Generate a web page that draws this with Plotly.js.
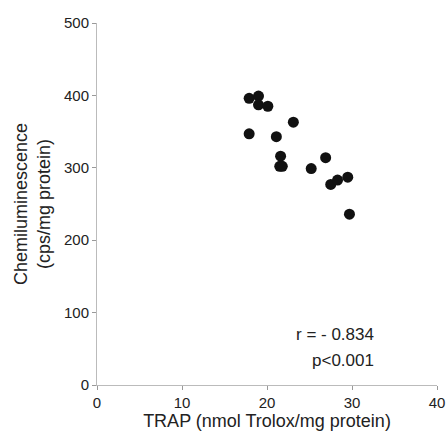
<!DOCTYPE html>
<html><head><meta charset="utf-8">
<script src="https://cdn.plot.ly/plotly-3.0.1.min.js"></script>
<style>html,body{margin:0;padding:0;background:#fff;}</style>
</head><body>
<div id="chart" style="width:447px;height:436px;"></div>
<script>
const trap = [17.9, 19.0, 19.0, 20.1, 23.1, 17.9, 21.1, 21.6, 21.5, 21.8, 26.9, 25.2, 27.5, 28.3, 29.5, 29.7];
const chemi = [396, 399, 387, 385, 363, 347, 343, 316, 302, 302, 314, 299, 277, 283, 287, 236];
const xTicks = [0, 10, 20, 30, 40];
const yTicks = [0, 100, 200, 300, 400, 500];
const statLines = ["r = - 0.834", "p<0.001"];

const font = {family: "Liberation Sans, Arial, sans-serif", color: "#222", size: 15};
Plotly.newPlot("chart", [{
  x: trap, y: chemi, type: "scatter", mode: "markers",
  marker: {color: "#111", size: 11},
  cliponaxis: false
}], {
  width: 447, height: 436,
  margin: {l: 97, r: 10, t: 23, b: 51},
  paper_bgcolor: "#fff", plot_bgcolor: "#fff",
  showlegend: false,
  font: font,
  xaxis: {
    range: [0, 40], tickvals: xTicks, ticktext: xTicks.map(String),
    showgrid: false, zeroline: false, showline: true, linecolor: "#bbb", linewidth: 1,
    ticks: "outside", ticklen: 4, tickcolor: "#999",
    tickfont: {size: 15, color: "#222"},
    title: {text: "TRAP (nmol Trolox/mg protein)", font: {size: 18, color: "#222"}, standoff: 3}
  },
  yaxis: {
    range: [0, 500], tickvals: yTicks, ticktext: yTicks.map(String),
    showgrid: false, zeroline: false, showline: true, linecolor: "#bbb", linewidth: 1,
    ticks: "outside", ticklen: 4, tickcolor: "#999",
    tickfont: {size: 15, color: "#222"},
    title: {text: "Chemiluminescence<br>(cps/mg protein)", font: {size: 18, color: "#222"}, standoff: 8}
  },
  annotations: [
    {xref: "paper", yref: "paper", x: 0.82, y: 0.108, text: statLines[0], showarrow: false, font: {size: 17, color: "#222"}},
    {xref: "paper", yref: "paper", x: 0.82, y: 0.036, text: statLines[1], showarrow: false, font: {size: 17, color: "#222"}}
  ]
}, {displayModeBar: false, staticPlot: true});
</script>
</body></html>
